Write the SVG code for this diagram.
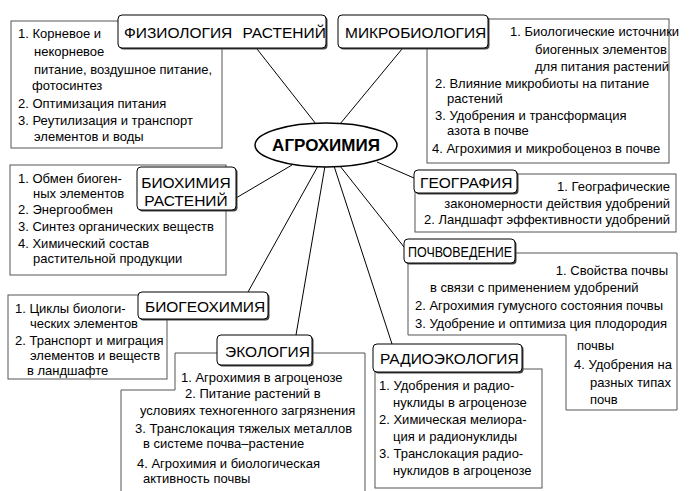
<svg xmlns="http://www.w3.org/2000/svg" width="690" height="491" viewBox="0 0 690 491">
<style>
text{font-family:"Liberation Sans",Arial,sans-serif;fill:#000}
.t{font-size:13px}
.h{font-size:15.5px}
.c{font-size:17px;font-weight:bold}
.box{fill:#fff;stroke:#555;stroke-width:1}
.tb{fill:#fff;stroke:#000;stroke-width:1}
.sh{fill:#444;stroke:none}
.ln{stroke:#000;stroke-width:1;fill:none}
.e{text-anchor:end}
.m{text-anchor:middle}
</style>
<rect width="690" height="491" fill="#fff"/>
<g id="connectors">
<line class="ln" x1="257" y1="49" x2="316" y2="124"/>
<line class="ln" x1="402" y1="49" x2="340" y2="124"/>
<line class="ln" x1="292" y1="165" x2="236" y2="198"/>
<line class="ln" x1="377" y1="162" x2="414" y2="178"/>
<line class="ln" x1="318" y1="166" x2="248" y2="292"/>
<line class="ln" x1="325" y1="166" x2="296" y2="335"/>
<line class="ln" x1="334" y1="166" x2="392" y2="344"/>
<line class="ln" x1="340" y1="166" x2="404" y2="247"/>
</g>
<g id="center">
<ellipse cx="326" cy="145" rx="71" ry="22" fill="#fff" stroke="#000" stroke-width="1.5"/>
<text class="c m" x="326" y="151">АГРОХИМИЯ</text>
</g>
<g id="physiology">
<rect class="box" x="11" y="21" width="211" height="127"/>
<rect class="sh" x="119.5" y="16.5" width="208" height="33" rx="4"/>
<rect class="tb" x="118" y="15" width="208" height="33" rx="4"/>
<text class="h" x="124" y="38" word-spacing="6">ФИЗИОЛОГИЯ РАСТЕНИЙ</text>
<text class="t" x="18" y="38">1. Корневое и</text>
<text class="t" x="34" y="56">некорневое</text>
<text class="t" x="34" y="74">питание, воздушное питание,</text>
<text class="t" x="32" y="90">фотосинтез</text>
<text class="t" x="18" y="108">2. Оптимизация питания</text>
<text class="t" x="18" y="125">3. Реутилизация и транспорт</text>
<text class="t" x="34" y="141">элементов и воды</text>
</g>
<g id="microbiology">
<rect class="box" x="427" y="19" width="242" height="144"/>
<rect class="sh" x="339.5" y="16.5" width="150" height="33" rx="4"/>
<rect class="tb" x="338" y="15" width="150" height="33" rx="4"/>
<text class="h" x="345" y="38">МИКРОБИОЛОГИЯ</text>
<text class="t" x="510" y="36">1. Биологические источники</text>
<text class="t" x="535" y="54">биогенных элементов</text>
<text class="t" x="535" y="71">для питания растений</text>
<text class="t" x="435" y="88">2. Влияние микробиоты на питание</text>
<text class="t" x="447" y="103">растений</text>
<text class="t" x="435" y="120">3. Удобрения и трансформация</text>
<text class="t" x="447" y="135">азота в почве</text>
<text class="t" x="432" y="153">4. Агрохимия и микробоценоз в почве</text>
</g>
<g id="biochemistry">
<rect class="box" x="10" y="165" width="216" height="110"/>
<rect class="sh" x="138.5" y="168.5" width="99" height="43" rx="4"/>
<rect class="tb" x="137" y="167" width="99" height="43" rx="4"/>
<text class="h m" x="186" y="188">БИОХИМИЯ</text>
<text class="h m" x="186" y="206">РАСТЕНИЙ</text>
<text class="t" x="18" y="183">1. Обмен биоген-</text>
<text class="t" x="33" y="198">ных элементов</text>
<text class="t" x="18" y="214">2. Энергообмен</text>
<text class="t" x="18" y="231">3. Синтез органических веществ</text>
<text class="t" x="18" y="248">4. Химический состав</text>
<text class="t" x="33" y="263">растительной продукции</text>
</g>
<g id="geography">
<rect class="box" x="415" y="174" width="261" height="58"/>
<rect class="sh" x="415.5" y="171.5" width="103" height="23" rx="4"/>
<rect class="tb" x="414" y="170" width="103" height="23" rx="4"/>
<text class="h" x="420" y="188">ГЕОГРАФИЯ</text>
<text class="t e" x="670" y="191">1. Географические</text>
<text class="t e" x="670" y="208">закономерности действия удобрений</text>
<text class="t e" x="670" y="224">2. Ландшафт эффективности удобрений</text>
</g>
<g id="soil">
<path class="box" d="M408,253H677V410H566V335H408Z"/>
<rect class="sh" x="405.5" y="240.5" width="111" height="24" rx="4"/>
<rect class="tb" x="404" y="239" width="111" height="24" rx="4"/>
<text class="h" x="408" y="257" textLength="104" lengthAdjust="spacingAndGlyphs">ПОЧВОВЕДЕНИЕ</text>
<text class="t e" x="668" y="275">1. Свойства почвы</text>
<text class="t" x="430" y="292">в связи с применением удобрений</text>
<text class="t" x="415" y="310">2. Агрохимия гумусного состояния почвы</text>
<text class="t" x="415" y="328" textLength="252">3. Удобрение и оптимиза ция плодородия</text>
<text class="t" x="577" y="350">почвы</text>
<text class="t" x="574" y="369">4. Удобрения на</text>
<text class="t" x="590" y="387">разных типах</text>
<text class="t" x="590" y="404">почв</text>
</g>
<g id="biogeochemistry">
<rect class="box" x="8" y="295" width="159" height="84"/>
<rect class="sh" x="139.5" y="293.5" width="130" height="27" rx="4"/>
<rect class="tb" x="138" y="292" width="130" height="27" rx="4"/>
<text class="h" x="145" y="312">БИОГЕОХИМИЯ</text>
<text class="t" x="15" y="313">1. Циклы биологи-</text>
<text class="t" x="30" y="328">ческих элементов</text>
<text class="t" x="15" y="345">2. Транспорт и миграция</text>
<text class="t" x="30" y="360">элементов и веществ</text>
<text class="t" x="27" y="375">в ландшафте</text>
</g>
<g id="ecology">
<path class="box" d="M175,353H365V495H121V390H175Z"/>
<rect class="sh" x="218.5" y="336.5" width="95" height="30" rx="4"/>
<rect class="tb" x="217" y="335" width="95" height="30" rx="4"/>
<text class="h" x="225" y="357">ЭКОЛОГИЯ</text>
<text class="t" x="181" y="382">1. Агрохимия в агроценозе</text>
<text class="t" x="185" y="398">2. Питание растений в</text>
<text class="t" x="140" y="415">условиях техногенного загрязнения</text>
<text class="t" x="135" y="433">3. Транслокация тяжелых металлов</text>
<text class="t" x="143" y="448">в системе почва–растение</text>
<text class="t" x="137" y="468">4. Агрохимия и биологическая</text>
<text class="t" x="143" y="483">активность почвы</text>
</g>
<g id="radioecology">
<rect class="box" x="375" y="369" width="167" height="119"/>
<rect class="sh" x="374.5" y="345.5" width="149" height="28" rx="4"/>
<rect class="tb" x="373" y="344" width="149" height="28" rx="4"/>
<text class="h" x="380" y="364">РАДИОЭКОЛОГИЯ</text>
<text class="t" x="379" y="390">1. Удобрения и радио-</text>
<text class="t" x="393" y="407">нуклиды в агроценозе</text>
<text class="t" x="379" y="424">2. Химическая мелиора-</text>
<text class="t" x="393" y="441">ция и радионуклиды</text>
<text class="t" x="379" y="458">3. Транслокация радио-</text>
<text class="t" x="393" y="475">нуклидов в агроценозе</text>
</g>
</svg>
